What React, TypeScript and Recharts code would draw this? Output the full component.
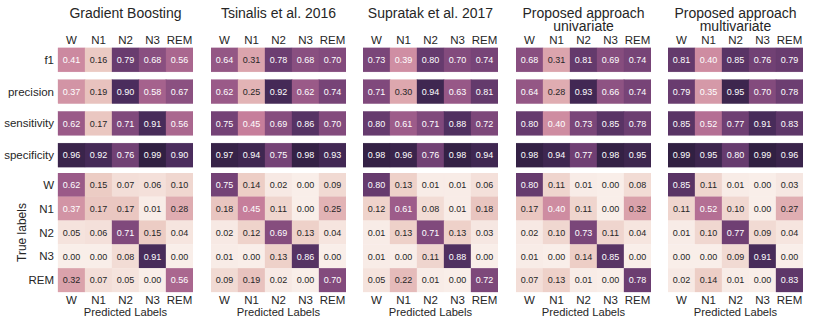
import { ScatterChart, Scatter, XAxis, YAxis } from 'recharts';

const CLASSES = ['W', 'N1', 'N2', 'N3', 'REM'];
const METRICS = ['f1', 'precision', 'sensitivity', 'specificity'];

const TITLES = [
  ['Gradient Boosting'],
  ['Tsinalis et al. 2016'],
  ['Supratak et al. 2017'],
  ['Proposed approach', 'univariate'],
  ['Proposed approach', 'multivariate'],
];

// rows: f1, precision, sensitivity, specificity; cols: W N1 N2 N3 REM
const gbMetrics = [
  [0.41, 0.16, 0.79, 0.68, 0.56],
  [0.37, 0.19, 0.9, 0.58, 0.67],
  [0.62, 0.17, 0.71, 0.91, 0.56],
  [0.96, 0.92, 0.76, 0.99, 0.9],
];
const tsinalisMetrics = [
  [0.64, 0.31, 0.78, 0.68, 0.7],
  [0.62, 0.25, 0.92, 0.62, 0.74],
  [0.75, 0.45, 0.69, 0.86, 0.7],
  [0.97, 0.94, 0.75, 0.98, 0.93],
];
const supratakMetrics = [
  [0.73, 0.39, 0.8, 0.7, 0.74],
  [0.71, 0.3, 0.94, 0.63, 0.81],
  [0.8, 0.61, 0.71, 0.88, 0.72],
  [0.98, 0.96, 0.76, 0.98, 0.94],
];
const univariateMetrics = [
  [0.68, 0.31, 0.81, 0.69, 0.74],
  [0.64, 0.28, 0.93, 0.66, 0.74],
  [0.8, 0.4, 0.73, 0.85, 0.78],
  [0.98, 0.94, 0.77, 0.98, 0.95],
];
const multivariateMetrics = [
  [0.81, 0.4, 0.85, 0.76, 0.79],
  [0.79, 0.35, 0.95, 0.7, 0.78],
  [0.85, 0.52, 0.77, 0.91, 0.83],
  [0.99, 0.95, 0.8, 0.99, 0.96],
];

// confusion matrices: rows = true labels, cols = predicted
const gbConfusion = [
  [0.62, 0.15, 0.07, 0.06, 0.1],
  [0.37, 0.17, 0.17, 0.01, 0.28],
  [0.05, 0.06, 0.71, 0.15, 0.04],
  [0.0, 0.0, 0.08, 0.91, 0.0],
  [0.32, 0.07, 0.05, 0.0, 0.56],
];
const tsinalisConfusion = [
  [0.75, 0.14, 0.02, 0.0, 0.09],
  [0.18, 0.45, 0.11, 0.0, 0.25],
  [0.02, 0.12, 0.69, 0.13, 0.04],
  [0.01, 0.0, 0.13, 0.86, 0.0],
  [0.09, 0.19, 0.02, 0.0, 0.7],
];
const supratakConfusion = [
  [0.8, 0.13, 0.01, 0.01, 0.06],
  [0.12, 0.61, 0.08, 0.01, 0.18],
  [0.01, 0.13, 0.71, 0.13, 0.03],
  [0.01, 0.0, 0.11, 0.88, 0.0],
  [0.05, 0.22, 0.01, 0.0, 0.72],
];
const univariateConfusion = [
  [0.8, 0.11, 0.01, 0.0, 0.08],
  [0.17, 0.4, 0.11, 0.0, 0.32],
  [0.02, 0.1, 0.73, 0.11, 0.04],
  [0.01, 0.0, 0.14, 0.85, 0.0],
  [0.07, 0.13, 0.01, 0.0, 0.78],
];
const multivariateConfusion = [
  [0.85, 0.11, 0.01, 0.0, 0.03],
  [0.11, 0.52, 0.1, 0.0, 0.27],
  [0.01, 0.1, 0.77, 0.09, 0.04],
  [0.0, 0.0, 0.09, 0.91, 0.0],
  [0.02, 0.14, 0.01, 0.0, 0.83],
];

const MODEL_METRICS = [gbMetrics, tsinalisMetrics, supratakMetrics, univariateMetrics, multivariateMetrics];
const MODEL_CONFUSION = [gbConfusion, tsinalisConfusion, supratakConfusion, univariateConfusion, multivariateConfusion];

const FONT = '"Liberation Sans", Arial, Helvetica, sans-serif';
const TEXT = '#262626';

// layout
const PANEL_LEFT = 58;
const PANEL_STEP = 152.5;
const PLOT_W = 135;
const LABEL_W = 58;
const TOP_AXIS_H = 44;
const TOP_PLOT_H = 127;
const BOT_TOP = 173;
const BOT_PLOT_H = 119;
const BOT_AXIS_H = 30;

// light pink -> dark purple (cubehelix-like)
const STOPS: [number, number[]][] = [
  [0.0, [249, 238, 233]],
  [0.15, [236, 204, 196]],
  [0.3, [221, 167, 174]],
  [0.45, [198, 126, 155]],
  [0.6, [160, 94, 139]],
  [0.75, [116, 66, 118]],
  [0.9, [75, 45, 93]],
  [1.0, [46, 30, 63]],
];

function heat(v: number) {
  for (let i = 1; i < STOPS.length; i++) {
    const [t1, c1] = STOPS[i];
    const [t0, c0] = STOPS[i - 1];
    if (v <= t1) {
      const f = (v - t0) / (t1 - t0);
      const c = c0.map((a, k) => Math.round(a + (c1[k] - a) * f));
      return `rgb(${c[0]},${c[1]},${c[2]})`;
    }
  }
  const c = STOPS[STOPS.length - 1][1];
  return `rgb(${c[0]},${c[1]},${c[2]})`;
}

function toCells(matrix: number[][]) {
  const out: { x: number; y: number; value: number }[] = [];
  matrix.forEach((row, r) => row.forEach((value, c) => out.push({ x: c, y: r, value })));
  return out;
}

const cellShape = (w: number, h: number) => (props: any) => {
  const { cx, cy, payload } = props;
  const v = payload.value;
  const fill = heat(v);
  return (
    <g>
      <rect x={cx - w / 2} y={cy - h / 2} width={w} height={h} fill={fill} stroke={fill} strokeWidth={0.3} />
      <text
        x={cx}
        y={cy}
        dy="0.36em"
        textAnchor="middle"
        fontSize={9}
        fontFamily={FONT}
        fill={v >= 0.33 ? '#ffffff' : TEXT}
      >
        {v.toFixed(2)}
      </text>
    </g>
  );
};

const rowTick = (labels: string[]) => (props: any) => (
  <text x={props.x} y={props.y} dy="0.35em" textAnchor="end" fontSize={11.5} fontFamily={FONT} fill={TEXT}>
    {labels[props.payload.value]}
  </text>
);

const colTick = (offset: number) => (props: any) => (
  <text x={props.x} y={props.y + offset} textAnchor="middle" fontSize={11.5} fontFamily={FONT} fill={TEXT}>
    {CLASSES[props.payload.value]}
  </text>
);

function Panel({ index }: { index: number }) {
  const first = index === 0;
  const left = PANEL_LEFT + index * PANEL_STEP - (first ? LABEL_W : 0);
  const width = PLOT_W + (first ? LABEL_W : 0);
  const title = TITLES[index];
  const botBand = BOT_PLOT_H / CLASSES.length;
  const cellW = PLOT_W / CLASSES.length;

  return (
    <>
      <div style={{ position: 'absolute', left, top: 0 }}>
        <ScatterChart width={width} height={TOP_AXIS_H + TOP_PLOT_H} margin={{ top: 0, right: 0, bottom: 0, left: 0 }}>
          <XAxis
            type="number"
            dataKey="x"
            orientation="top"
            domain={[-0.5, CLASSES.length - 0.5]}
            ticks={CLASSES.map((_, i) => i)}
            interval={0}
            height={TOP_AXIS_H}
            axisLine={false}
            tickLine={false}
            tickSize={0}
            tickMargin={0}
            tick={colTick(-0.5)}
            label={(p: any) => {
              const vb = p.viewBox;
              const cx = vb.x + vb.width / 2;
              return (
                <text textAnchor="middle" fontSize={14} fontFamily={FONT} fill={TEXT}>
                  {title.map((line, i) => (
                    <tspan key={i} x={cx} y={18 + i * 13}>
                      {line}
                    </tspan>
                  ))}
                </text>
              );
            }}
          />
          <YAxis
            type="number"
            dataKey="y"
            reversed
            domain={[-0.5, METRICS.length - 0.5]}
            ticks={METRICS.map((_, i) => i)}
            interval={0}
            width={LABEL_W}
            hide={!first}
            axisLine={false}
            tickLine={false}
            tickSize={0}
            tickMargin={4}
            tick={rowTick(METRICS)}
          />
          <Scatter
            data={toCells(MODEL_METRICS[index])}
            shape={cellShape(cellW, 24)}
            isAnimationActive={false}
          />
        </ScatterChart>
      </div>
      <div style={{ position: 'absolute', left, top: BOT_TOP }}>
        <ScatterChart width={width} height={BOT_PLOT_H + BOT_AXIS_H} margin={{ top: 0, right: 0, bottom: 0, left: 0 }}>
          <XAxis
            type="number"
            dataKey="x"
            orientation="bottom"
            domain={[-0.5, CLASSES.length - 0.5]}
            ticks={CLASSES.map((_, i) => i)}
            interval={0}
            height={BOT_AXIS_H}
            axisLine={false}
            tickLine={false}
            tickSize={0}
            tickMargin={0}
            tick={colTick(12)}
            label={{ value: 'Predicted Labels', position: 'insideBottom', offset: 6.5, fontSize: 11.2, fontFamily: FONT, fill: TEXT }}
          />
          <YAxis
            type="number"
            dataKey="y"
            reversed
            domain={[-0.5, CLASSES.length - 0.5]}
            ticks={CLASSES.map((_, i) => i)}
            interval={0}
            width={LABEL_W}
            hide={!first}
            axisLine={false}
            tickLine={false}
            tickSize={0}
            tickMargin={4}
            tick={rowTick(CLASSES)}
            label={(p: any) => {
              const vb = p.viewBox;
              const cy = vb.y + vb.height / 2;
              return (
                <text
                  x={26}
                  y={cy}
                  transform={`rotate(-90, 26, ${cy})`}
                  textAnchor="middle"
                  fontSize={12}
                  fontFamily={FONT}
                  fill={TEXT}
                >
                  True labels
                </text>
              );
            }}
          />
          <Scatter
            data={toCells(MODEL_CONFUSION[index])}
            shape={cellShape(cellW, botBand)}
            isAnimationActive={false}
          />
        </ScatterChart>
      </div>
    </>
  );
}

export default function App() {
  return (
    <div style={{ position: 'absolute', left: 0, top: 0, width: 814, height: 326, background: '#fff', fontFamily: FONT }}>
      {TITLES.map((_, i) => (
        <Panel key={i} index={i} />
      ))}
    </div>
  );
}
